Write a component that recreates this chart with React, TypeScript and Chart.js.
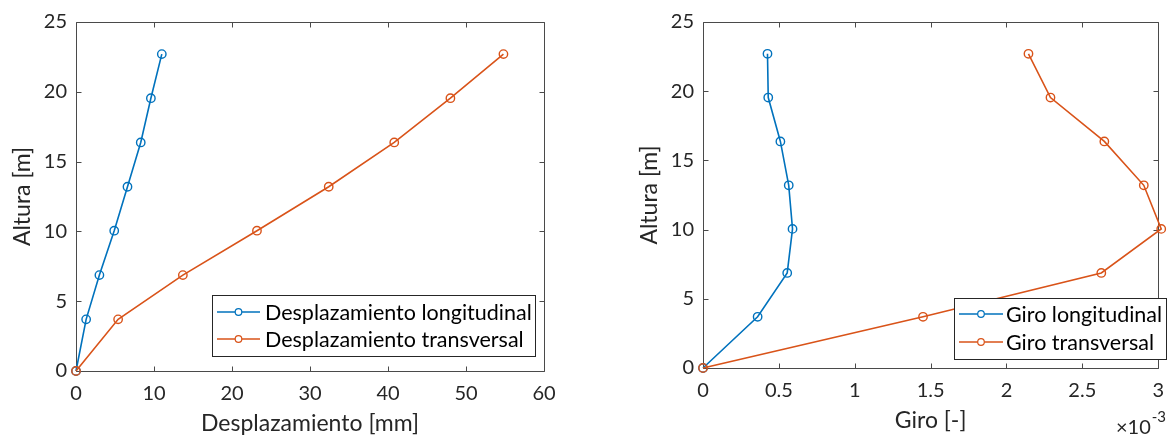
import React, { useEffect, useRef } from 'react';
import { Chart, registerables } from 'chart.js';

Chart.register(...registerables);

// Heights of the measured levels [m]
const alturas = [0, 3.7, 6.87, 10.05, 13.2, 16.37, 19.54, 22.7];

// Displacements [mm]
const desplLongitudinal = [0, 1.3, 3.0, 4.9, 6.6, 8.3, 9.6, 11.0];
const desplTransversal = [0, 5.4, 13.7, 23.2, 32.4, 40.8, 48.0, 54.8];

// Rotations [-]
const giroLongitudinal = [0, 0.36e-3, 0.555e-3, 0.59e-3, 0.565e-3, 0.51e-3, 0.43e-3, 0.425e-3];
const giroTransversal = [0, 1.45e-3, 2.625e-3, 3.02e-3, 2.905e-3, 2.645e-3, 2.29e-3, 2.145e-3];

// Axis ticks
const alturaTicks = [0, 5, 10, 15, 20, 25];
const desplTicks = [0, 10, 20, 30, 40, 50, 60];
const giroTicks = [0, 0.5e-3, 1e-3, 1.5e-3, 2e-3, 2.5e-3, 3e-3];

const AZUL = '#0072BD';
const NARANJA = '#D95319';
const EJE = '#262626';
const FUENTE = 'Lato';

const W = 1175;
const H = 437;

type Pt = { x: number; y: number };
const perfil = (xs: number[]): Pt[] => alturas.map((h, i) => ({ x: xs[i], y: h }));

// Box around the plot area with inward tick marks on all four sides
const cajaEjes = {
  id: 'cajaEjes',
  beforeDatasetsDraw(chart: any) {
    const { ctx, chartArea: a, scales } = chart;
    const L = 5;
    const r = (v: number) => Math.round(v) + 0.5;
    ctx.save();
    ctx.strokeStyle = '#4a4a4a';
    ctx.lineWidth = 1;
    ctx.beginPath();
    ctx.rect(r(a.left), r(a.top), Math.round(a.right) - Math.round(a.left), Math.round(a.bottom) - Math.round(a.top));
    for (const t of scales.x.ticks) {
      const px = r(scales.x.getPixelForValue(t.value));
      ctx.moveTo(px, r(a.bottom));
      ctx.lineTo(px, r(a.bottom) - L);
      ctx.moveTo(px, r(a.top));
      ctx.lineTo(px, r(a.top) + L);
    }
    for (const t of scales.y.ticks) {
      const py = r(scales.y.getPixelForValue(t.value));
      ctx.moveTo(r(a.left), py);
      ctx.lineTo(r(a.left) + L, py);
      ctx.moveTo(r(a.right), py);
      ctx.lineTo(r(a.right) - L, py);
    }
    ctx.stroke();
    ctx.restore();
  },
};

// Framed legend placed inside the plot area
const leyendaCaja = {
  id: 'leyendaCaja',
  afterDatasetsDraw(chart: any, _args: any, opts: any) {
    const { ctx } = chart;
    const { left, top, width, height, rows, lineStart, lineEnd, textX, fontSize } = opts;
    ctx.save();
    ctx.fillStyle = '#ffffff';
    ctx.fillRect(left, top, width, height);
    ctx.strokeStyle = '#262626';
    ctx.lineWidth = 1;
    ctx.strokeRect(Math.round(left) + 0.5, Math.round(top) + 0.5, Math.round(width), Math.round(height));
    const sets = [...chart.data.datasets].sort((a: any, b: any) => a.legendIndex - b.legendIndex);
    sets.forEach((ds: any, i: number) => {
      const y = top + rows[i];
      ctx.strokeStyle = ds.borderColor;
      ctx.lineWidth = 1.5;
      ctx.beginPath();
      ctx.moveTo(left + lineStart, y);
      ctx.lineTo(left + lineEnd, y);
      ctx.stroke();
      ctx.beginPath();
      ctx.arc(left + (lineStart + lineEnd) / 2, y, 3.3, 0, Math.PI * 2);
      ctx.fillStyle = '#ffffff';
      ctx.fill();
      ctx.lineWidth = 1.2;
      ctx.stroke();
      ctx.fillStyle = '#000000';
      ctx.font = `${fontSize}px ${FUENTE}`;
      ctx.textBaseline = 'middle';
      ctx.textAlign = 'left';
      ctx.fillText(ds.label, left + textX, y + 1);
    });
    ctx.restore();
  },
};

// Exponent label for a scaled x axis
const exponenteEje = {
  id: 'exponenteEje',
  afterDraw(chart: any, _args: any, opts: any) {
    if (!opts || !opts.text) return;
    const { ctx } = chart;
    ctx.save();
    ctx.fillStyle = EJE;
    ctx.textBaseline = 'alphabetic';
    ctx.textAlign = 'left';
    ctx.font = `${opts.size}px ${FUENTE}`;
    ctx.fillText(opts.text, opts.x, opts.y);
    const w = ctx.measureText(opts.text).width;
    ctx.font = `${opts.supSize}px ${FUENTE}`;
    ctx.fillText(opts.sup, opts.x + w + 1, opts.y - opts.rise);
    ctx.restore();
  },
};

function serie(label: string, color: string, data: Pt[], order: number, legendIndex: number) {
  return {
    label,
    data,
    showLine: true,
    borderColor: color,
    backgroundColor: 'rgba(0,0,0,0)',
    borderWidth: 1.6,
    pointRadius: 4.2,
    pointBorderWidth: 1.4,
    pointBackgroundColor: 'rgba(0,0,0,0)',
    pointBorderColor: color,
    tension: 0,
    clip: false,
    order,
    legendIndex,
  };
}

function escalas(cfg: any) {
  const ticksFont = { family: FUENTE, size: 20 };
  const titleFont = { family: FUENTE, size: 23 };
  return {
    x: {
      type: 'linear',
      min: cfg.xMin,
      max: cfg.xMax,
      afterBuildTicks: (s: any) => {
        s.ticks = cfg.xTicks.map((v: number) => ({ value: v }));
      },
      afterFit: (s: any) => {
        s.height = cfg.xHeight;
      },
      grid: { display: false, drawTicks: false },
      border: { display: false },
      ticks: {
        color: EJE,
        font: ticksFont,
        padding: cfg.xTickPad,
        maxRotation: 0,
        autoSkip: false,
        callback: cfg.xFormat,
      },
      title: {
        display: true,
        text: cfg.xTitle,
        color: EJE,
        font: titleFont,
        padding: { top: 0, bottom: cfg.xTitlePad },
      },
    },
    y: {
      type: 'linear',
      min: 0,
      max: 25,
      afterBuildTicks: (s: any) => {
        s.ticks = alturaTicks.map((v) => ({ value: v }));
      },
      afterFit: (s: any) => {
        s.width = cfg.yWidth;
      },
      grid: { display: false, drawTicks: false },
      border: { display: false },
      ticks: { color: EJE, font: ticksFont, padding: cfg.yTickPad, autoSkip: false },
      title: {
        display: true,
        text: 'Altura [m]',
        color: EJE,
        font: titleFont,
        padding: { top: cfg.yTitlePad, bottom: 0 },
      },
    },
  };
}

function Grafico(props: { left: number; width: number; config: () => any }) {
  const ref = useRef<HTMLCanvasElement | null>(null);
  useEffect(() => {
    if (!ref.current) return;
    const chart = new Chart(ref.current, props.config());
    return () => chart.destroy();
  }, []);
  return (
    <canvas
      ref={ref}
      width={props.width}
      height={H}
      style={{ position: 'absolute', left: props.left, top: 0, width: props.width, height: H, display: 'block' }}
    />
  );
}

const configDesplazamiento = () => ({
  type: 'scatter',
  data: {
    datasets: [
      serie('Desplazamiento longitudinal', AZUL, perfil(desplLongitudinal), 2, 0),
      serie('Desplazamiento transversal', NARANJA, perfil(desplTransversal), 1, 1),
    ],
  },
  plugins: [cajaEjes, leyendaCaja, exponenteEje],
  options: {
    animation: false,
    responsive: false,
    devicePixelRatio: 1,
    layout: { padding: { left: 0, top: 22, right: 46, bottom: 0 } },
    scales: escalas({
      xMin: 0,
      xMax: 60,
      xTicks: desplTicks,
      xHeight: 66,
      xTickPad: 11,
      xTitle: 'Desplazamiento [mm]',
      xTitlePad: 0,
      xFormat: (v: number) => String(v),
      yWidth: 76,
      yTickPad: 9,
      yTitlePad: 9,
    }),
    plugins: {
      legend: { display: false },
      tooltip: { enabled: false },
      leyendaCaja: {
        left: 212,
        top: 295,
        width: 323,
        height: 61,
        rows: [17, 44],
        lineStart: 5,
        lineEnd: 48,
        textX: 53,
        fontSize: 21.5,
      },
      exponenteEje: {},
    },
  },
});

const configGiro = () => ({
  type: 'scatter',
  data: {
    datasets: [
      serie('Giro longitudinal', AZUL, perfil(giroLongitudinal), 2, 0),
      serie('Giro transversal', NARANJA, perfil(giroTransversal), 1, 1),
    ],
  },
  plugins: [cajaEjes, leyendaCaja, exponenteEje],
  options: {
    animation: false,
    responsive: false,
    devicePixelRatio: 1,
    layout: { padding: { left: 0, top: 22, right: 7, bottom: 0 } },
    scales: escalas({
      xMin: 0,
      xMax: 3e-3,
      xTicks: giroTicks,
      xHeight: 69,
      xTickPad: 11,
      xTitle: 'Giro [-]',
      xTitlePad: 3,
      xFormat: (v: number) => String(+(v * 1000).toFixed(2)),
      yWidth: 113,
      yTickPad: 9,
      yTitlePad: 46,
    }),
    plugins: {
      legend: { display: false },
      tooltip: { enabled: false },
      leyendaCaja: {
        left: 364,
        top: 298,
        width: 212,
        height: 61,
        rows: [16, 44],
        lineStart: 5,
        lineEnd: 49,
        textX: 52,
        fontSize: 21.5,
      },
      exponenteEje: { text: '×10', sup: '-3', x: 526, y: 434, size: 20, supSize: 15, rise: 12 },
    },
  },
});

export default function App() {
  return (
    <div style={{ position: 'absolute', left: 0, top: 0, width: W, height: H, background: '#ffffff', overflow: 'hidden' }}>
      <Grafico left={0} width={590} config={configDesplazamiento} />
      <Grafico left={590} width={585} config={configGiro} />
    </div>
  );
}
